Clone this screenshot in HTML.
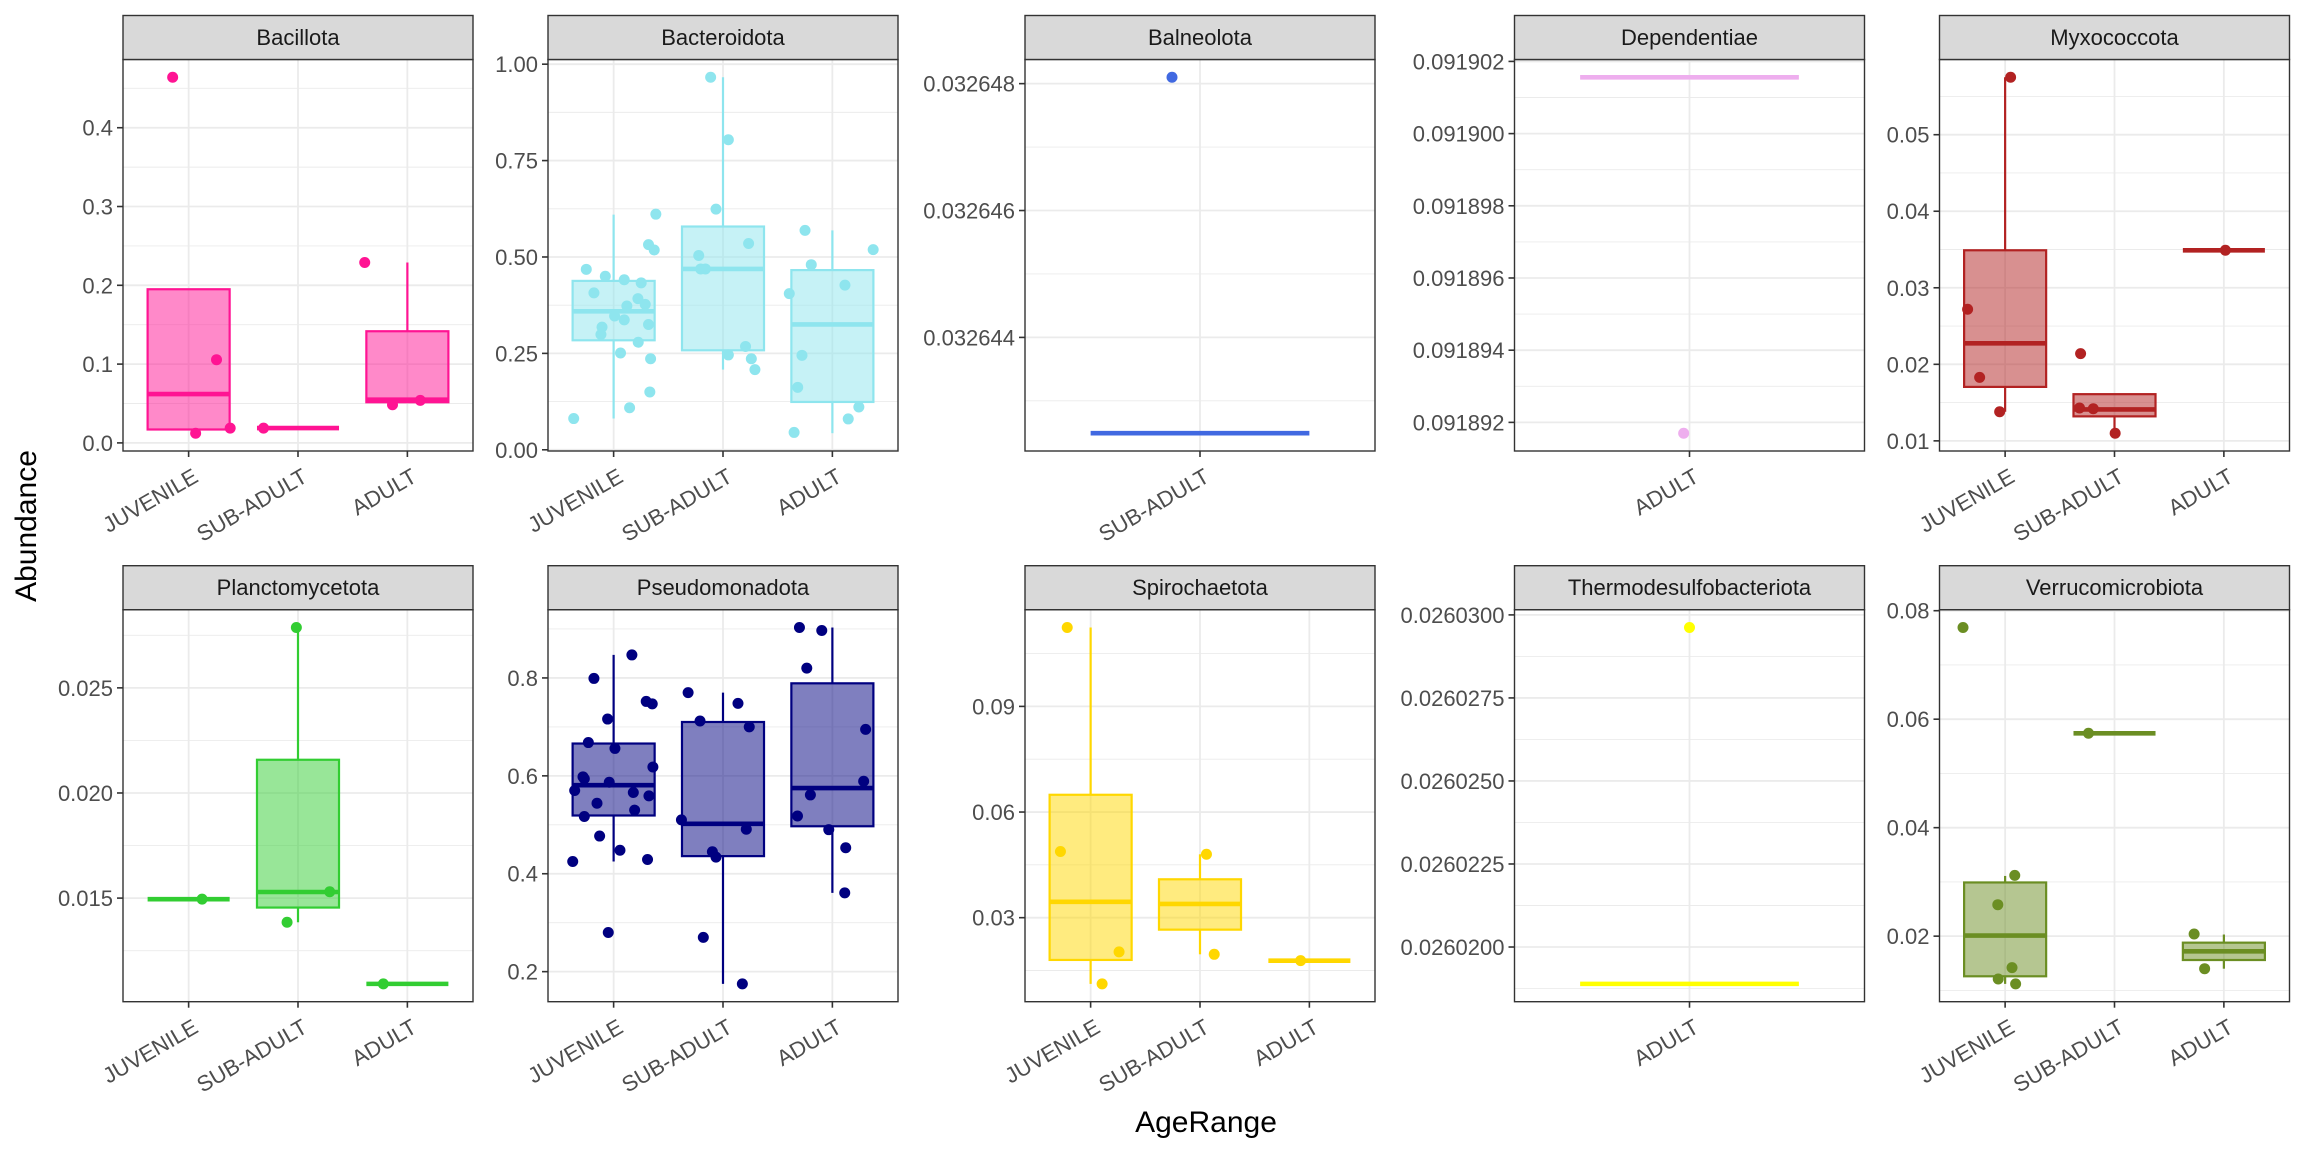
<!DOCTYPE html>
<html><head><meta charset="utf-8"><title>Abundance by AgeRange</title>
<style>
html,body{margin:0;padding:0;background:#fff;}
svg{display:block;font-family:"Liberation Sans",Arial,sans-serif;}
</style></head>
<body>
<svg id="chart" width="2304" height="1152" viewBox="0 0 2304 1152" xmlns="http://www.w3.org/2000/svg">
<rect x="0" y="0" width="2304" height="1152" fill="#ffffff"/>
<text x="0" y="0" transform="translate(36,526) rotate(-90)" text-anchor="middle" font-size="30" fill="#000">Abundance</text>
<text x="1206" y="1132" text-anchor="middle" font-size="30" fill="#000">AgeRange</text>
</svg>
<script>
// ---- data ----
const phyla = ["Bacillota","Bacteroidota","Balneolota","Dependentiae","Myxococcota","Planctomycetota","Pseudomonadota","Spirochaetota","Thermodesulfobacteriota","Verrucomicrobiota"];
const phylumColors = ["#FF1493","#8EE5EE","#4169E1","#EEAEEE","#B22222","#32CD32","#000080","#FFD700","#FFFF00","#6B8E23"];
const panelCategories = [
  ["JUVENILE","SUB-ADULT","ADULT"],["JUVENILE","SUB-ADULT","ADULT"],["SUB-ADULT"],["ADULT"],["JUVENILE","SUB-ADULT","ADULT"],
  ["JUVENILE","SUB-ADULT","ADULT"],["JUVENILE","SUB-ADULT","ADULT"],["JUVENILE","SUB-ADULT","ADULT"],["ADULT"],["JUVENILE","SUB-ADULT","ADULT"]
];
const boxQ1 = [[0.017,0.0188,0.0516],[0.284,0.258,0.124],[0.03264249],[0.09190156],[0.01705,0.0132,0.0349],
  [0.01495,0.01455,0.01092],[0.519,0.436,0.497],[0.0180,0.0266,0.0178],[0.02601889],[0.0126,0.0574,0.0156]];
const boxMedian = [[0.062,0.0188,0.0549],[0.359,0.469,0.325],[0.03264249],[0.09190156],[0.02275,0.0141,0.0349],
  [0.01495,0.01529,0.01092],[0.581,0.502,0.575],[0.0345,0.0339,0.0178],[0.02601889],[0.0201,0.0574,0.0172]];
const boxQ3 = [[0.195,0.0188,0.1417],[0.438,0.579,0.466],[0.03264249],[0.09190156],[0.0349,0.0161,0.0349],
  [0.01495,0.02158,0.01092],[0.666,0.710,0.789],[0.0649,0.0409,0.0178],[0.02601889],[0.0299,0.0574,0.0188]];
const whiskerLow = [[0.017,0.0188,0.0516],[0.081,0.208,0.043],[0.03264249],[0.09190156],[0.0138,0.011,0.0349],
  [0.01495,0.01385,0.01092],[0.425,0.175,0.361],[0.0112,0.0196,0.0178],[0.02601889],[0.0112,0.0574,0.0140]];
const whiskerHigh = [[0.195,0.0188,0.229],[0.610,0.966,0.569],[0.03264249],[0.09190156],[0.0575,0.0161,0.0349],
  [0.01495,0.02787,0.01092],[0.847,0.770,0.903],[0.1124,0.0480,0.0178],[0.02601889],[0.0311,0.0574,0.0203]];
const pointValues = [
  [[0.464,0.1056,0.0123,0.0188],[0.0188],[0.229,0.0484,0.054]],
  [[0.081,0.468,0.407,0.450,0.441,0.433,0.392,0.373,0.377,0.347,0.337,0.318,0.299,0.325,0.279,0.251,0.236,0.150,0.109,0.611,0.532,0.518],
   [0.966,0.804,0.624,0.504,0.469,0.469,0.535,0.268,0.246,0.236,0.208],
   [0.569,0.480,0.405,0.427,0.519,0.245,0.162,0.111,0.080,0.045]],
  [[0.0326481]],
  [[0.0918917]],
  [[0.0272,0.0183,0.0138,0.0575],[0.0214,0.0143,0.0142,0.011],[0.0349]],
  [[0.01495],[0.02787,0.01385,0.0153],[0.01092]],
  [[0.425,0.799,0.847,0.716,0.752,0.747,0.668,0.656,0.598,0.594,0.587,0.570,0.618,0.566,0.559,0.544,0.530,0.517,0.477,0.448,0.429,0.280],
   [0.770,0.712,0.748,0.700,0.510,0.491,0.445,0.434,0.270,0.175],
   [0.903,0.897,0.820,0.695,0.589,0.561,0.518,0.490,0.453,0.361]],
  [[0.1124,0.0488,0.0203,0.0112],[0.048,0.0196],[0.0178]],
  [[0.02602962]],
  [[0.0769,0.0312,0.0258,0.0142,0.0121,0.0112],[0.0574],[0.0204,0.0140]]
];
const pointJitter = [
  [[-0.146,0.255,0.064,0.38],[-0.315],[-0.39,-0.136,0.118]],
  [[-0.365,-0.25,-0.18,-0.076,0.097,0.252,0.222,0.121,0.289,0.009,0.097,-0.106,-0.116,0.319,0.225,0.063,0.338,0.331,0.146,0.386,0.319,0.371],
   [-0.113,0.049,-0.064,-0.222,-0.204,-0.161,0.234,0.206,0.049,0.259,0.292],
   [-0.25,-0.193,-0.394,0.115,0.373,-0.278,-0.317,0.242,0.145,-0.35]],
  [[-0.096]],
  [[-0.02]],
  [[-0.343,-0.233,-0.05,0.05],[-0.31,-0.32,-0.194,0.006],[0.014]],
  [[0.123],[-0.015,-0.1,0.29],[-0.22]],
  [[-0.374,-0.18,0.167,-0.055,0.298,0.353,-0.231,0.012,-0.28,-0.268,-0.04,-0.356,0.359,0.18,0.323,-0.152,0.192,-0.268,-0.128,0.058,0.31,-0.049],
   [-0.319,-0.21,0.137,0.24,-0.38,0.213,-0.097,-0.064,-0.18,0.177],
   [-0.301,-0.097,-0.234,0.304,0.286,-0.201,-0.319,-0.033,0.122,0.113]],
  [[-0.214,-0.276,0.26,0.105],[0.059,0.13],[-0.08]],
  [[0]],
  [[-0.385,0.088,-0.067,0.063,-0.063,0.096],[-0.238],[-0.272,-0.176]]
];
const yTicks = [[0,0.1,0.2,0.3,0.4],[0,0.25,0.5,0.75,1],[0.032644,0.032646,0.032648],[0.091892,0.091894,0.091896,0.091898,0.0919,0.091902],
  [0.01,0.02,0.03,0.04,0.05],[0.015,0.02,0.025],[0.2,0.4,0.6,0.8],[0.03,0.06,0.09],[0.02602,0.0260225,0.026025,0.0260275,0.02603],[0.02,0.04,0.06,0.08]];
const yTickLabels = [["0.0","0.1","0.2","0.3","0.4"],["0.00","0.25","0.50","0.75","1.00"],["0.032644","0.032646","0.032648"],
  ["0.091892","0.091894","0.091896","0.091898","0.091900","0.091902"],["0.01","0.02","0.03","0.04","0.05"],["0.015","0.020","0.025"],
  ["0.2","0.4","0.6","0.8"],["0.03","0.06","0.09"],["0.0260200","0.0260225","0.0260250","0.0260275","0.0260300"],["0.02","0.04","0.06","0.08"]];

// ---- layout ----
const colLeft = [123, 548, 1025, 1514.5, 1939.5];
const panelW = 350;
const stripTop = [15.5, 565.7];
const stripH = 44;
const panelBottom = [451, 1001.7];
const NS = "http://www.w3.org/2000/svg";
const svg = document.getElementById("chart");

function mk(tag, attrs, parent) {
  const e = document.createElementNS(NS, tag);
  for (const k in attrs) e.setAttribute(k, attrs[k]);
  (parent || svg).appendChild(e);
  return e;
}
function slug(s) { return s.toLowerCase().replace(/[^a-z0-9]+/g, "-"); }

phyla.forEach((name, p) => {
  const col = p % 5, row = Math.floor(p / 5);
  const L = colLeft[col], R = L + panelW;
  const sT = stripTop[row], T = sT + stripH, B = panelBottom[row];
  const color = phylumColors[p];
  const cats = panelCategories[p];
  const g = mk("g", {});
  
  

  let all = [];
  pointValues[p].forEach(a => all = all.concat(a));
  all = all.concat(boxQ1[p], boxQ3[p], whiskerLow[p], whiskerHigh[p], boxMedian[p]);
  const mn = Math.min(...all), mx = Math.max(...all);
  const ex = (mx - mn) * 0.05 || 1e-6;
  const d0 = mn - ex, d1 = mx + ex;
  const y = v => B - (v - d0) / (d1 - d0) * (B - T);
  const unit = panelW / (cats.length + 0.2);
  const x = i => L + (i + 0.6) * unit;

  mk("rect", {x: L, y: T, width: panelW, height: B - T, fill: "#fff"}, g);
  const ticks = yTicks[p];
  const step = ticks.length > 1 ? ticks[1] - ticks[0] : (d1 - d0);
  for (let v = ticks[0] - step / 2; v <= d1; v += step) {
    if (v < d0) continue;
    const ln = mk("line", {x1: L, x2: R, y1: y(v), y2: y(v), stroke: "#EBEBEB", "stroke-width": 0.9}, g);
    
    
  }
  ticks.forEach((v, k) => {
    const yy = y(v);
    const ln = mk("line", {x1: L, x2: R, y1: yy, y2: yy, stroke: "#EBEBEB", "stroke-width": 1.8}, g);
    
    
    const tk = mk("line", {x1: L - 6, x2: L, y1: yy, y2: yy, stroke: "#333", "stroke-width": 1.6}, g);
    
    
    const tl = mk("text", {x: L - 10, y: yy + 8, "text-anchor": "end", "font-size": 22, fill: "#4D4D4D"}, g);
    tl.textContent = yTickLabels[p][k];
    
    
  });
  cats.forEach((c, i) => {
    const vl = mk("line", {x1: x(i), x2: x(i), y1: T, y2: B, stroke: "#EBEBEB", "stroke-width": 1.8}, g);
    
    
    const tk = mk("line", {x1: x(i), x2: x(i), y1: B, y2: B + 6, stroke: "#333", "stroke-width": 1.6}, g);
    
    
    const tl = mk("text", {x: 0, y: 0, dy: "0.72em", "text-anchor": "end", "font-size": 22, fill: "#4D4D4D",
      transform: "translate(" + (x(i) + 3) + "," + (B + 16) + ") rotate(-30)"}, g);
    tl.textContent = c;
    
    
  });

  cats.forEach((c, i) => {
    const bw = unit * 0.75, cx = x(i);
    const bg = mk("g", {}, g);
    
    
    mk("line", {x1: cx, x2: cx, y1: y(boxQ3[p][i]), y2: y(whiskerHigh[p][i]), stroke: color, "stroke-width": 2.2}, bg);
    mk("line", {x1: cx, x2: cx, y1: y(boxQ1[p][i]), y2: y(whiskerLow[p][i]), stroke: color, "stroke-width": 2.2}, bg);
    const yq3 = y(boxQ3[p][i]), yq1 = y(boxQ1[p][i]);
    mk("rect", {x: cx - bw / 2, y: yq3, width: bw, height: Math.max(0, yq1 - yq3), fill: color, "fill-opacity": 0.5, stroke: color, "stroke-width": 2.2}, bg);
    mk("line", {x1: cx - bw / 2, x2: cx + bw / 2, y1: y(boxMedian[p][i]), y2: y(boxMedian[p][i]), stroke: color, "stroke-width": 4.6}, bg);
  });
  cats.forEach((c, i) => {
    pointValues[p][i].forEach((v, k) => {
      const pt = mk("circle", {cx: x(i + pointJitter[p][i][k]), cy: y(v), r: 5.5, fill: color}, g);
      
      
    });
  });

  const bd = mk("rect", {x: L, y: T, width: panelW, height: B - T, fill: "none", stroke: "#333", "stroke-width": 1.4}, g);
  
  
  const st = mk("rect", {x: L, y: sT, width: panelW, height: stripH, fill: "#D9D9D9", stroke: "#333", "stroke-width": 1.4}, g);
  
  
  const stt = mk("text", {x: L + panelW / 2, y: sT + 29.5, "text-anchor": "middle", "font-size": 22, fill: "#1A1A1A"}, g);
  stt.textContent = name;
  
  
});
</script>
</body></html>
